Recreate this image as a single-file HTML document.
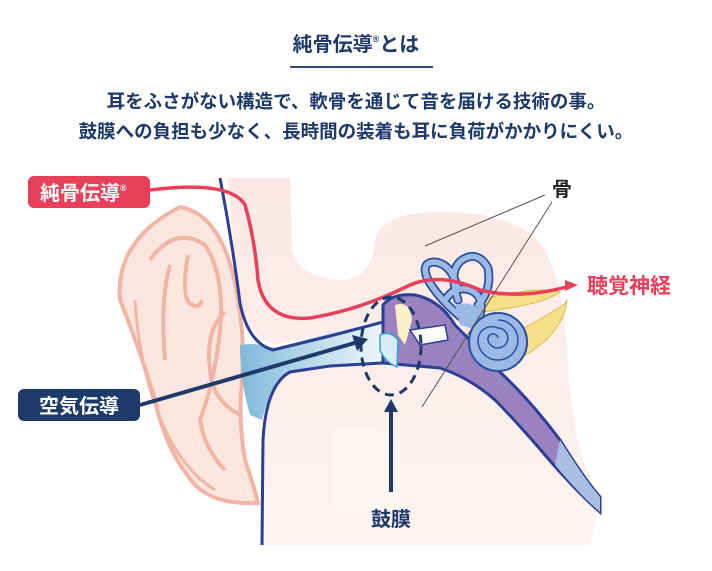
<!DOCTYPE html>
<html><head><meta charset="utf-8"><style>
body{margin:0;background:#fff;}
.w{position:relative;width:712px;height:571px;overflow:hidden;font-family:"Liberation Sans","Noto Sans CJK JP",sans-serif;}
.t{position:absolute;left:0;width:712px;text-align:center;color:#1d3a6b;font-weight:bold;}
</style></head><body><div class="w">
<div class="t" style="top:28px;font-size:20px;">純骨伝導<sup style="font-size:9px;vertical-align:9px">®</sup>とは</div>
<div style="position:absolute;left:290px;top:66px;width:143px;height:2px;background:#2f4f83"></div>
<div class="t" style="top:88px;font-size:18.5px;">耳をふさがない構造で、軟骨を通じて音を届ける技術の事。</div>
<div class="t" style="top:118px;font-size:18.5px;">鼓膜への負担も少なく、長時間の装着も耳に負荷がかかりにくい。</div>
<svg width="712" height="571" style="position:absolute;left:0;top:0" viewBox="0 0 712 571">
<defs>
<linearGradient id="cg" x1="0" x2="1"><stop offset="0" stop-color="#7fb8d8"/><stop offset="0.35" stop-color="#a9d1e6"/><stop offset="1" stop-color="#eef6fb"/></linearGradient>
<linearGradient id="lg" x1="0" y1="0" x2="0" y2="1"><stop offset="0" stop-color="#fbe8e4"/><stop offset="1" stop-color="#fdf4f2"/></linearGradient>
</defs>
<!-- head pink -->
<path d="M228,178 L290,178 L292,250 Q300,278 340,280 Q372,280 375,240 Q380,215 430,212 Q520,210 545,250 Q565,290 567,350 Q570,420 585,465 L600,500 L590,545 L262,545 L262,400 Q270,372 300,372 L380,362 L380,322 L275,345 Q240,330 238,300 Z" fill="url(#lg)"/>
<path d="M333,430 Q360,420 400,440 L400,510 L333,510 Z" fill="#fdf6f4" opacity="0.8"/>
<!-- ear -->
<path d="M180,207 Q225,215 238,300 Q245,340 242,380 Q238,420 245,460 Q255,490 258,503 Q215,505 195,485 Q165,450 155,400 Q140,350 120,300 Q115,240 180,207 Z" fill="#fbe6df" stroke="#f2b4a4" stroke-width="4"/>
<path d="M150,260 Q175,225 205,245 Q225,275 220,330 Q215,380 200,420 Q205,450 225,470" fill="none" stroke="#f2b4a4" stroke-width="4"/>
<path d="M170,265 Q160,300 165,360" fill="none" stroke="#f2b4a4" stroke-width="4"/>
<path d="M188,255 Q180,300 192,305 Q200,308 202,300" fill="none" stroke="#f2b4a4" stroke-width="4"/>
<path d="M225,312 Q205,330 210,370 Q212,400 240,415" fill="none" stroke="#f2b4a4" stroke-width="4"/>
<path d="M135,300 Q140,380 170,440 Q190,475 215,490" fill="none" stroke="#f2b4a4" stroke-width="3"/>
<!-- canal -->
<path d="M240,345 Q255,342 275,348 L330,333 L383,322 L383,363 L330,366 L290,372 Q270,385 262,420 L250,415 Q240,380 240,345 Z" fill="url(#cg)"/>
<!-- middle ear purple -->
<path d="M383,322 L383,305 Q392,293 415,295 Q440,300 455,325 Q480,350 500,372 Q530,400 560,440 Q585,480 600,497 L600,512 Q575,490 545,455 Q515,420 495,400 Q470,378 440,368 L383,363 Z" fill="#9a82c0" stroke="#2b3f94" stroke-width="3"/>
<path d="M395,305 Q410,300 412,320 L405,345 L398,335 Z" fill="#fbf1c8"/>
<path d="M410,330 L445,325 L448,340 L420,345 Z" fill="#fff" stroke="#2b3f94" stroke-width="1.5"/>
<path d="M560,440 Q585,480 600,497 L600,512 Q580,495 555,465 Z" fill="#a9bfe3"/>
<!-- eardrum -->
<path d="M380,335 Q390,330 398,340 L397,367 Q385,362 380,350 Z" fill="#d7ecf7" stroke="#39a2d8" stroke-width="1.5"/>
<!-- yellow nerves -->
<path d="M480,300 Q510,292 520,292 Q540,288 560,292 Q545,302 520,306 Q500,310 482,312 Z" fill="#f6e08a" stroke="#d9b94e" stroke-width="1"/>
<path d="M520,330 Q540,320 555,310 Q565,305 567,300 Q565,320 548,338 Q535,350 525,355 Z" fill="#f6e08a" stroke="#d9b94e" stroke-width="1"/>
<!-- semicircular canals -->
<g fill="none" stroke-linecap="round">
<g stroke="#2b4ea0" stroke-width="9">
<path d="M462,318 Q440,300 428,280 Q420,262 435,262 Q452,264 458,290"/>
<path d="M458,300 Q448,270 462,260 Q478,250 488,268 Q492,290 478,305"/>
<path d="M445,300 Q455,285 470,290 Q485,296 480,315"/>
</g>
<g stroke="#9ab9e4" stroke-width="5.5">
<path d="M462,318 Q440,300 428,280 Q420,262 435,262 Q452,264 458,290"/>
<path d="M458,300 Q448,270 462,260 Q478,250 488,268 Q492,290 478,305"/>
<path d="M445,300 Q455,285 470,290 Q485,296 480,315"/>
</g>
</g>
<path d="M455,305 Q470,300 480,310 L478,330 L460,325 Z" fill="#9ab9e4"/>
<circle cx="498" cy="342" r="29" fill="#9ab9e4" stroke="#2b4ea0" stroke-width="2"/>
<path d="M498,320 A20,20 0 1,1 478,342 A14,14 0 0,1 498,328 A10,10 0 1,1 488,340 A5,5 0 0,1 498,338" fill="none" stroke="#2b4ea0" stroke-width="1.5"/>
<!-- head outline -->
<path d="M220,178 Q232,240 240,303 Q248,343 273,350 L330,336 L383,322" fill="none" stroke="#2b3f94" stroke-width="3"/>
<path d="M383,363 L330,366 L290,372 Q266,385 263,440 L262,545" fill="none" stroke="#2b3f94" stroke-width="3"/>
<!-- red bone conduction line -->
<path d="M150,190 Q230,180 245,205 Q255,240 258,280 Q265,322 310,318 Q360,310 410,285 Q440,272 480,290 Q520,300 570,286" fill="none" stroke="#e8405a" stroke-width="3.5"/>
<path d="M565,280 L578,285 L565,291 Z" fill="#e8405a"/>
<!-- bone lines -->
<line x1="545" y1="195" x2="425" y2="246" stroke="#555" stroke-width="1"/>
<line x1="552" y1="202" x2="422" y2="407" stroke="#555" stroke-width="1"/>
<!-- dashed ellipse -->
<ellipse cx="391" cy="346" rx="30" ry="49" fill="none" stroke="#1d3a6b" stroke-width="3" stroke-dasharray="9,6"/>
<!-- air arrow -->
<line x1="140" y1="405" x2="358" y2="342" stroke="#1d3a6b" stroke-width="4"/>
<path d="M352,335 L368,339 L357,351 Z" fill="#1d3a6b"/>
<!-- eardrum arrow -->
<line x1="391" y1="492" x2="391" y2="410" stroke="#1d3a6b" stroke-width="4"/>
<path d="M384,412 L391,399 L398,412 Z" fill="#1d3a6b"/>
<!-- labels -->
<rect x="28" y="176" width="122" height="32" rx="6" fill="#e8405a"/>
<text x="40" y="200" font-size="20" font-weight="bold" fill="#fff" font-family="Liberation Sans, Noto Sans CJK JP, sans-serif">純骨伝導<tspan font-size="9" dy="-9">®</tspan></text>
<rect x="18" y="389" width="122" height="32" rx="6" fill="#1d3a6b"/>
<text x="79" y="413" font-size="20" font-weight="bold" fill="#fff" text-anchor="middle" font-family="Liberation Sans, Noto Sans CJK JP, sans-serif">空気伝導</text>
<text x="562" y="196" font-size="20" font-weight="bold" fill="#222" text-anchor="middle" font-family="Liberation Sans, Noto Sans CJK JP, sans-serif">骨</text>
<text x="587" y="293" font-size="21" font-weight="bold" fill="#e8405a" font-family="Liberation Sans, Noto Sans CJK JP, sans-serif">聴覚神経</text>
<text x="391" y="526" font-size="20" font-weight="bold" fill="#1d3a6b" text-anchor="middle" font-family="Liberation Sans, Noto Sans CJK JP, sans-serif">鼓膜</text>
</svg>
</div></body></html>
